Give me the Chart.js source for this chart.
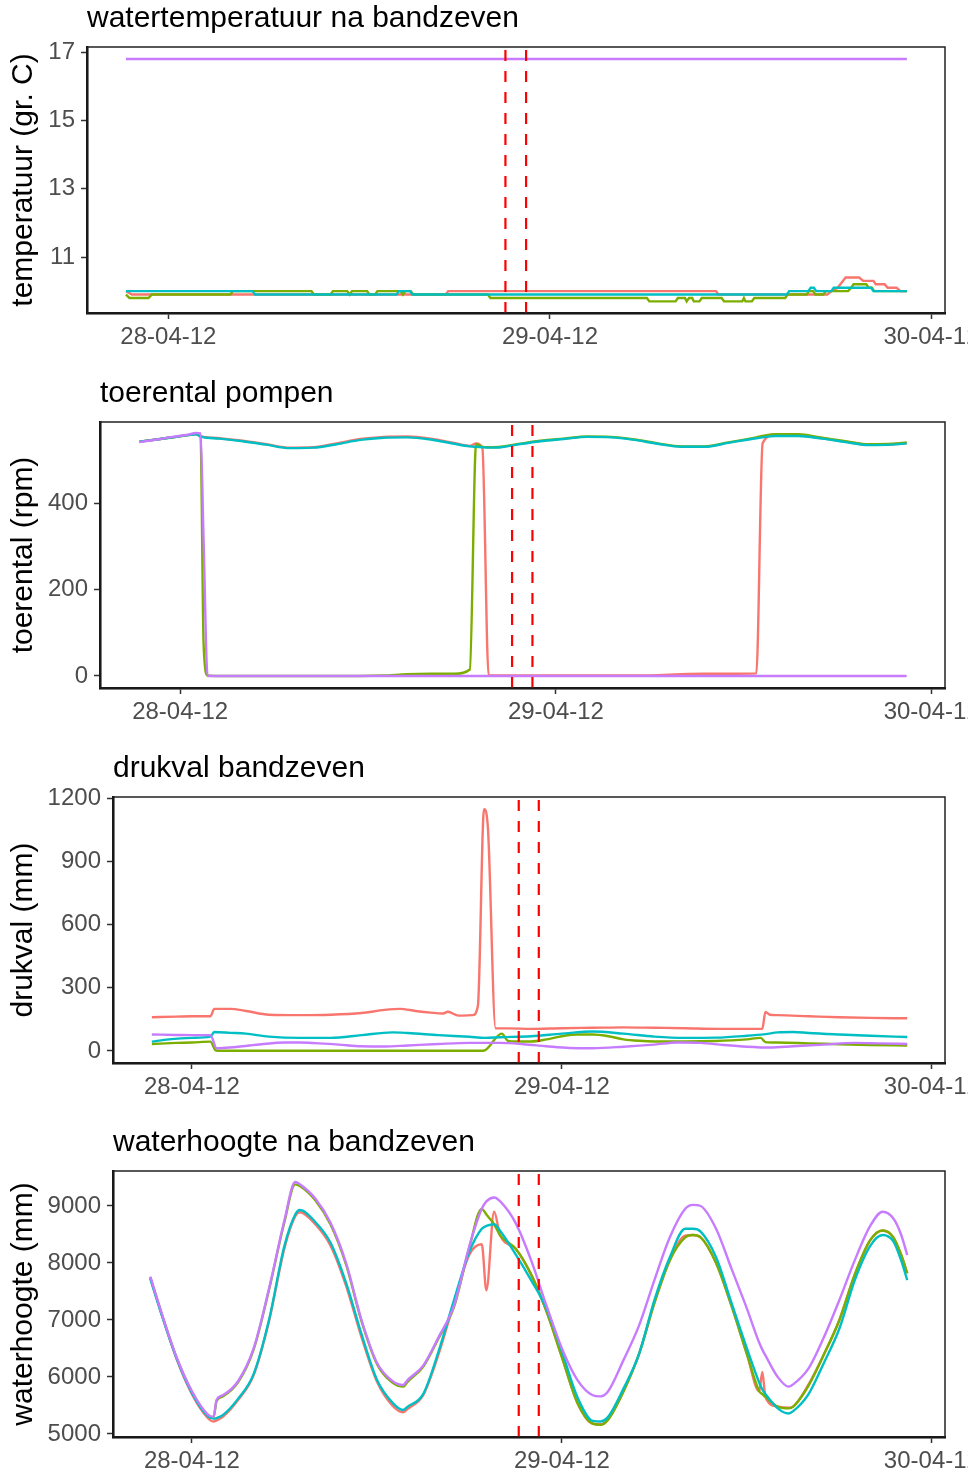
<!DOCTYPE html>
<html>
<head>
<meta charset="utf-8">
<script src="https://cdn.jsdelivr.net/npm/chart.js"></script>
<style>
  html, body { margin: 0; padding: 0; background: #fff; overflow: hidden; }
  body { width: 968px; height: 1474px; position: relative; }
  canvas { position: absolute; left: 0; }
</style>
</head>
<body>
<canvas id="temp" width="968" height="350" style="top:0px"></canvas>
<canvas id="toeren" width="968" height="350" style="top:375px"></canvas>
<canvas id="drukval" width="968" height="350" style="top:750px"></canvas>
<canvas id="hoogte" width="968" height="350" style="top:1124px"></canvas>
<script>
// tijd in uren vanaf 28-04-12 00:00
var xTicks = [0, 24, 48];
var xLabels = ['28-04-12', '29-04-12', '30-04-12'];
var storingTijden = [21.2, 22.5];

// watertemperatuur (gr. C)
var tempTicks = [11, 13, 15, 17];
var tempTijdPaars = [-2.67, 46.45];
var tempPaars = [16.8, 16.8];
var tempTijdCyaan = [-2.67, 5.3, 5.45, 14.35, 14.5, 15.2, 15.35, 38.9, 39.05, 40.25, 40.4, 40.6, 40.75, 41.7, 41.85, 44.2, 44.35, 46.45];
var tempCyaan = [10.0, 10.0, 9.9, 9.9, 10.0, 10.0, 9.9, 9.9, 10.0, 10.0, 10.1, 10.1, 10.0, 10.0, 10.1, 10.1, 10.0, 10.0];
var tempTijdRood = [-2.67, -2.3, 17.45, 17.6, 34.45, 34.6, 41.45, 41.7, 42.1, 42.6, 43.45, 43.7, 44.35, 44.5, 45.05, 45.25, 45.8, 46.05, 46.45];
var tempRood = [10.0, 9.9, 9.9, 10.0, 10.0, 9.9, 9.9, 10.0, 10.1, 10.4, 10.4, 10.3, 10.3, 10.2, 10.2, 10.1, 10.1, 10.0, 10.0];
var tempTijdGroen = [-2.67, -2.45, -1.25, -1.05, 3.9, 4.05, 9.0, 9.15, 10.2, 10.35, 11.25, 11.4, 11.55, 12.5, 12.65, 13.0, 13.15, 14.6, 14.75, 14.9, 15.25, 15.4,
  20.1, 20.25, 30.1, 30.25, 31.9, 32.05, 32.5, 32.6, 32.75, 32.95, 33.05, 33.4, 33.55, 34.8, 34.95, 36.1, 36.2, 36.3, 36.7, 36.85,
  38.8, 38.95, 40.15, 40.3, 40.55, 40.7, 41.2, 41.35, 42.75, 42.95, 43.1, 43.9, 44.05, 44.25, 44.4, 46.45];
var tempGroen = [9.9, 9.8, 9.8, 9.9, 9.9, 10.0, 10.0, 9.9, 9.9, 10.0, 10.0, 9.9, 10.0, 10.0, 9.9, 9.9, 10.0, 10.0, 9.9, 10.0, 10.0, 9.9,
  9.9, 9.8, 9.8, 9.7, 9.7, 9.8, 9.8, 9.7, 9.8, 9.8, 9.7, 9.7, 9.8, 9.8, 9.7, 9.7, 9.8, 9.7, 9.7, 9.8,
  9.8, 9.9, 9.9, 10.0, 10.0, 9.9, 9.9, 10.0, 10.0, 10.1, 10.2, 10.2, 10.1, 10.1, 10.0, 10.0];

// toerental pompen (rpm)
var toerenTicks = [0, 200, 400];
var toerenTijd = [-2.6, -1.5, -0.5, 0.5, 1.0, 1.3, 1.5, 1.75, 2.5, 4, 5.5, 7, 8.5, 10, 11.5, 13, 14.5, 16, 17.5, 18.5, 18.9, 19.3, 19.7,
  20.5, 21.5, 23, 24.5, 26, 27.5, 29, 30.5, 32, 33.5, 35, 36.8, 37.2, 38, 39.5, 41, 42.5, 44, 45.5, 46.4];
var toerenRood = [544, 549, 554, 559, 561, 557, 555, 554, 552, 546, 538, 530, 531, 540, 550, 555, 556, 551, 541, 534, 540, 530, 2,
  1, 1, 1, 1, 1, 1, 1, 2, 4, 5, 5, 6, 540, 560, 559, 552, 544, 537, 538, 541];
var toerenGroen = [544, 549, 554, 559, 562, 555, 70, 1, 0, 0, 0, 0, 0, 0, 0, 1, 4, 5, 5, 15, 538, 532, 531,
  532, 538, 546, 551, 556, 555, 549, 540, 533, 533, 542, 554, 557, 561, 561, 553, 545, 538, 539, 542];
var toerenCyaan = [544, 549, 554, 559, 561, 556, 554, 553, 551, 545, 537, 529, 530, 538, 548, 553, 554, 549, 539, 533, 532, 531, 530,
  531, 537, 545, 550, 555, 554, 548, 539, 532, 532, 541, 552, 554, 557, 557, 551, 543, 536, 537, 540];
var toerenPaars = [543, 549, 555, 560, 564, 563, 310, 0, 0, 0, 0, 0, 0, 0, 0, 0, 0, 0, 0, 0, 0, 0, 0,
  0, 0, 0, 0, 0, 0, 0, 0, 0, 0, 0, 0, 0, 0, 0, 0, 0, 0, 0, 0];

// drukval bandzeven (mm)
var drukTicks = [0, 300, 600, 900, 1200];
var drukTijdRood = [-2.6, -1, 0, 1.2, 1.45, 2.5, 3.5, 5, 7, 9, 11, 12.5, 13.5, 14.5, 15.5, 16.3, 16.6, 17.3, 18.2, 18.55, 18.95, 19.2, 19.7,
  20.5, 22, 24, 26, 28, 30, 32, 34, 36, 37.0, 37.2, 37.5, 38, 40, 42, 44, 46.4];
var drukRood = [160, 163, 165, 165, 200, 200, 190, 172, 170, 172, 180, 195, 200, 190, 182, 178, 186, 168, 170, 215, 1150, 1060, 107,
  107, 105, 108, 110, 112, 110, 108, 105, 105, 105, 185, 172, 170, 165, 160, 157, 155];
var drukTijdCyaan = [-2.6, -1.5, 0, 1.2, 1.45, 2.5, 3.5, 5, 7, 9, 11, 13, 14, 16, 18, 19, 20, 22, 24, 26, 28, 30, 32, 34, 36, 37.2, 38, 39, 40, 42, 44, 46.4];
var drukCyaan = [44, 55, 62, 68, 90, 86, 82, 68, 62, 62, 75, 88, 85, 75, 67, 62, 65, 70, 82, 92, 82, 68, 62, 63, 72, 80, 88, 90, 85, 78, 72, 66];
var drukTijdGroen = [-2.6, -1, 0, 1.2, 1.55, 2, 18.9, 20.1, 20.5, 21, 22, 23, 24, 25, 26, 27, 28, 29, 30, 32, 34, 35, 36, 36.9, 37.2, 38, 40, 42, 44, 46.4];
var drukGroen = [33, 38, 40, 44, 2, 1, 1, 82, 48, 45, 45, 55, 70, 78, 78, 70, 55, 48, 45, 45, 47, 50, 55, 62, 42, 40, 36, 32, 28, 26];
var drukTijdPaars = [-2.6, -1, 0, 1.2, 1.6, 2, 3, 4.5, 6, 7, 8, 9.5, 11, 12.5, 14, 16, 18, 20, 21.5, 23, 24.5, 26, 28, 30, 31.5, 33, 34.5, 36, 37.5, 39, 41, 43, 44.5, 46.4];
var drukPaars = [78, 76, 75, 75, 13, 14, 20, 32, 40, 40, 37, 30, 22, 21, 26, 33, 38, 38, 32, 22, 14, 13, 20, 30, 40, 38, 28, 20, 16, 22, 30, 38, 36, 33];

// waterhoogte na bandzeven (mm)
var hoogteTicks = [5000, 6000, 7000, 8000, 9000];
var hoogteTijd = [-2.7, -2, -1, 0, 1, 1.4, 1.6, 2, 3, 4, 5, 6, 6.7, 7, 8, 9, 10, 11, 12, 13, 13.7, 14, 15, 16, 17, 18, 18.8, 19.1, 19.6, 20,
  21, 22, 23, 24, 25, 26, 26.5, 27, 28, 29, 30, 31, 32, 32.5, 33, 34, 35, 36, 36.8, 37, 37.2, 38, 38.7, 39, 40, 41, 42, 43, 44, 44.8, 45.5, 46, 46.4];
var hoogtePaars = [7760, 7150, 6350, 5750, 5350, 5300, 5600, 5680, 5930, 6500, 7550, 8750, 9420, 9380, 9130, 8700, 8000, 7000, 6250, 5930,
  5860, 5950, 6200, 6700, 7250, 8300, 8950, 9080, 9150, 9080, 8700, 8050, 7250, 6500, 5950, 5680, 5660, 5750, 6300, 6900,
  7700, 8450, 8950, 9020, 9000, 8600, 7900, 7200, 6600, 6480, 6380, 6000, 5830, 5870, 6150, 6700, 7350, 8050, 8650, 8900, 8780, 8500, 8140];
var hoogteGroen = [7750, 7140, 6340, 5740, 5340, 5290, 5580, 5660, 5910, 6480, 7530, 8720, 9380, 9350, 9100, 8670, 7970, 6980, 6230, 5900,
  5830, 5920, 6180, 6680, 7230, 8280, 8950, 8850, 8680, 8480, 8250, 7800, 7150, 6350, 5550, 5180, 5160, 5250, 5750, 6400,
  7300, 8050, 8450, 8490, 8450, 8000, 7250, 6400, 5750, 5700, 5650, 5480, 5450, 5480, 5850, 6400, 7000, 7800, 8400, 8570, 8450, 8150, 7820];
var hoogteCyaan = [7720, 7120, 6330, 5720, 5320, 5270, 5280, 5330, 5620, 6050, 7000, 8300, 8850, 8930, 8720, 8350, 7650, 6750, 5950, 5550,
  5420, 5480, 5700, 6450, 7350, 8200, 8600, 8650, 8680, 8560, 8150, 7700, 7200, 6450, 5650, 5230, 5220, 5300, 5800, 6400,
  7350, 8100, 8600, 8600, 8550, 8100, 7300, 6500, 5900, 5780, 5700, 5450, 5360, 5400, 5700, 6250, 6850, 7700, 8300, 8490, 8380, 8050, 7700];
var hoogteRood = [7740, 7130, 6320, 5700, 5290, 5220, 5240, 5300, 5600, 6030, 6980, 8260, 8820, 8890, 8680, 8300, 7600, 6700, 5920, 5500,
  5380, 5440, 5680, 6400, 7300, 8150, 8330, 7520, 8900, 8480, 8250, 7800, 7150, 6350, 5550, 5180, 5170, 5260, 5750, 6400,
  7300, 8050, 8480, 8490, 8450, 8000, 7250, 6400, 5750, 6090, 5650, 5480, 5460, 5480, 5870, 6400, 7000, 7800, 8400, 8570, 8450, 8150, 7820];

var rood = '#F8766D', groen = '#7CAE00', cyaan = '#00BFC4', paars = '#C77CFF';

Chart.defaults.font.family = '"Liberation Sans", Arial, sans-serif';

function lijn(kleur, tijden, waarden, volgorde, glad) {
  return {
    data: tijden.map(function (t, i) { return {x: t, y: waarden[i]}; }),
    borderColor: kleur,
    borderWidth: 2.4,
    pointRadius: 0,
    fill: false,
    tension: 0,
    cubicInterpolationMode: glad ? 'monotone' : 'default',
    order: volgorde
  };
}

function storing(t, yMin, yMax) {
  return {
    data: [{x: t, y: yMin}, {x: t, y: yMax}],
    borderColor: '#FF0000',
    borderWidth: 2.2,
    borderDash: [11, 10],
    pointRadius: 0,
    fill: false,
    order: 0
  };
}

var paneelRand = {
  id: 'paneelRand',
  afterDraw: function (chart) {
    var a = chart.chartArea, ctx = chart.ctx;
    ctx.save();
    ctx.strokeStyle = '#222';
    ctx.lineWidth = 1.5;
    ctx.strokeRect(a.left, a.top, a.right - a.left, a.bottom - a.top);
    ctx.restore();
  }
};

var asStijl = {
  grid: { drawOnChartArea: false, drawTicks: true, tickLength: 6, tickWidth: 1.5, tickColor: '#333' },
  border: { display: true, color: '#000', width: 2.5 }
};

function maakGrafiek(id, titel, yTitel, yMin, yMax, yTicks, plotLinks, lijnen) {
  var sets = storingTijden.map(function (t) { return storing(t, yMin, yMax); }).concat(lijnen);
  return new Chart(document.getElementById(id), {
    type: 'line',
    data: { datasets: sets },
    plugins: [paneelRand],
    options: {
      responsive: false,
      animation: false,
      events: [],
      layout: { padding: { left: 0, right: 23, top: 0, bottom: 0 } },
      plugins: {
        legend: { display: false },
        tooltip: { enabled: false },
        title: {
          display: true, text: titel, align: 'start', fullSize: false, color: '#000',
          font: { size: 30, weight: 'normal', lineHeight: 1 },
          padding: { top: 4, bottom: 13 }
        }
      },
      scales: {
        x: {
          type: 'linear', min: -5.12, max: 48.85, bounds: 'data',
          afterBuildTicks: function (s) { s.ticks = xTicks.map(function (v) { return {value: v}; }); },
          afterFit: function (s) { s.height = 37; s.paddingLeft = 0; s.paddingRight = 0; },
          ticks: {
            autoSkip: false, maxRotation: 0, minRotation: 0, padding: 4, color: '#4D4D4D', font: { size: 24 },
            callback: function (v) { return xLabels[xTicks.indexOf(v)]; }
          },
          grid: asStijl.grid, border: asStijl.border
        },
        y: {
          type: 'linear', min: yMin, max: yMax, bounds: 'data',
          afterBuildTicks: function (s) { s.ticks = yTicks.map(function (v) { return {value: v}; }); },
          afterFit: function (s) { s.width = plotLinks; },
          ticks: { padding: 6, color: '#4D4D4D', font: { size: 24 }, callback: function (v) { return String(v); } },
          grid: asStijl.grid, border: asStijl.border,
          title: { display: true, text: yTitel, color: '#000', font: { size: 30, weight: 'normal' }, padding: { top: 6, bottom: 0 } }
        }
      }
    }
  });
}

maakGrafiek('temp', 'watertemperatuur na bandzeven', 'temperatuur (gr. C)', 9.36, 17.15, tempTicks, 87, [
  lijn(paars, tempTijdPaars, tempPaars, 1, false),
  lijn(cyaan, tempTijdCyaan, tempCyaan, 2, false),
  lijn(groen, tempTijdGroen, tempGroen, 3, false),
  lijn(rood, tempTijdRood, tempRood, 4, false)
]);

maakGrafiek('toeren', 'toerental pompen', 'toerental (rpm)', -28, 589.6, toerenTicks, 100, [
  lijn(paars, toerenTijd, toerenPaars, 1, true),
  lijn(cyaan, toerenTijd, toerenCyaan, 2, true),
  lijn(groen, toerenTijd, toerenGroen, 3, true),
  lijn(rood, toerenTijd, toerenRood, 4, true)
]);

maakGrafiek('drukval', 'drukval bandzeven', 'drukval (mm)', -57.5, 1207.5, drukTicks, 113, [
  lijn(paars, drukTijdPaars, drukPaars, 1, true),
  lijn(cyaan, drukTijdCyaan, drukCyaan, 2, true),
  lijn(groen, drukTijdGroen, drukGroen, 3, true),
  lijn(rood, drukTijdRood, drukRood, 4, true)
]);

maakGrafiek('hoogte', 'waterhoogte na bandzeven', 'waterhoogte (mm)', 4947, 9614, hoogteTicks, 113, [
  lijn(paars, hoogteTijd, hoogtePaars, 1, true),
  lijn(cyaan, hoogteTijd, hoogteCyaan, 2, true),
  lijn(groen, hoogteTijd, hoogteGroen, 3, true),
  lijn(rood, hoogteTijd, hoogteRood, 4, true)
]);
</script>
</body>
</html>
